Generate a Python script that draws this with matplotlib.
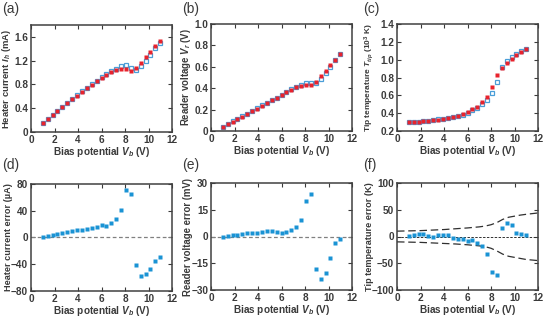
import numpy as np
import matplotlib
matplotlib.use('Agg')
import matplotlib.pyplot as plt
from matplotlib.ticker import MultipleLocator

plt.rcParams['font.family'] = ['Liberation Sans', 'DejaVu Sans']
plt.rcParams['mathtext.fontset'] = 'custom'
plt.rcParams['mathtext.rm'] = 'Liberation Sans:bold'
plt.rcParams['mathtext.it'] = 'Liberation Sans:bold:italic'
plt.rcParams['mathtext.bf'] = 'Liberation Sans:bold'

# bias potential (V)
bias = [1.0, 1.42, 1.83, 2.25, 2.67, 3.08, 3.5, 3.92, 4.33, 4.75, 5.17, 5.58, 6.0,
        6.42, 6.83, 7.25, 7.67, 8.08, 8.5, 8.92, 9.33, 9.75, 10.17, 10.58, 11.0]

# (a) heater current (mA): measured (red) and model (blue)
current_meas = [0.146, 0.215, 0.283, 0.35, 0.415, 0.48, 0.55, 0.61, 0.675, 0.735, 0.79, 0.85, 0.905,
                0.96, 1.005, 1.04, 1.06, 1.055, 1.02, 1.075, 1.16, 1.255, 1.35, 1.44, 1.53]
current_model = [0.147, 0.217, 0.287, 0.355, 0.422, 0.488, 0.559, 0.621, 0.687, 0.748, 0.805, 0.865, 0.924,
                 0.978, 1.027, 1.068, 1.102, 1.127, 1.085, 1.035, 1.102, 1.2, 1.303, 1.405, 1.50]

# (b) reader voltage (V)
reader_meas = [0.038, 0.063, 0.088, 0.113, 0.135, 0.16, 0.186, 0.21, 0.236, 0.26, 0.286, 0.311, 0.336,
               0.362, 0.387, 0.409, 0.42, 0.428, 0.428, 0.462, 0.51, 0.56, 0.613, 0.667, 0.717]
reader_model = [0.038, 0.063, 0.089, 0.114, 0.137, 0.162, 0.188, 0.212, 0.239, 0.263, 0.289, 0.313, 0.338,
                0.365, 0.391, 0.414, 0.429, 0.448, 0.452, 0.444, 0.486, 0.54, 0.601, 0.663, 0.716]

# (c) tip temperature (10^3 K)
temp_meas = [0.298, 0.298, 0.302, 0.309, 0.313, 0.321, 0.328, 0.336, 0.343, 0.355, 0.37, 0.389, 0.415,
             0.442, 0.472, 0.525, 0.585, 0.694, 0.826, 0.906, 0.966, 1.011, 1.053, 1.09, 1.118]
temp_model = [0.299, 0.300, 0.306, 0.313, 0.314, 0.320, 0.330, 0.339, 0.345, 0.352, 0.365, 0.385, 0.406,
              0.435, 0.461, 0.507, 0.552, 0.628, 0.754, 0.922, 0.99, 1.032, 1.059, 1.094, 1.121]

# (d)-(f) errors
current_err = [0.5, 2, 4, 5, 6.5, 7.5, 9, 10.5, 11.5, 13, 14.5, 15, 18.5,
               17.5, 21.5, 27.5, 41.5, 71.5, 65, -40.5, -58, -55, -47.5, -35, -29.5]
reader_err = [-0.4, 0.2, 0.6, 0.9, 1.5, 1.7, 1.9, 2.1, 2.6, 3.0, 3.0, 2.4, 2.2,
              2.8, 3.9, 5.1, 9.4, 20.1, 23.8, -18.4, -23.8, -20.4, -12.0, -3.75, -1.5]
temp_err = [1.3, 2.5, 4.4, 3.8, 1.3, -0.6, 1.9, 3.1, 1.9, -2.5, -5, -4.4, -8.8,
            -6.9, -11.3, -18.2, -33.3, -66, -72.3, 15.7, 24.5, 21.4, 6.3, 3.8, 3.1]

# (f) uncertainty envelope (K)
env_bias = [0, 1, 2, 3, 4, 5, 6, 7, 7.5, 8, 8.5, 9, 9.5, 10, 10.5, 11, 12]
env_upper = [10, 10.5, 11, 12, 13, 14.5, 16, 18, 19.5, 22, 26, 32, 36, 38, 40, 41.5, 44]
env_lower = [-10, -10.5, -11, -12, -13, -14, -15.5, -17.5, -19, -22, -27, -33, -37, -39, -41, -43, -45]

RED = '#e8232d'
BLUE = '#4a9ed8'
BLUE_ERR = '#1a93d4'
TXT = '#3a3a3a'
FS = 7.2

fig = plt.figure(figsize=(5.45, 3.17), dpi=100)
W, H = 545.0, 317.0


def make_axes(left, top, right, bottom):
    return fig.add_axes([left / W, 1 - bottom / H, (right - left) / W, (bottom - top) / H])


def style(ax, ylim, ystep, ylabel, label_fs, label_x=-0.13, yticklabels=None):
    ax.set_xlim(0, 12)
    ax.set_ylim(*ylim)
    ax.xaxis.set_major_locator(MultipleLocator(2))
    ax.yaxis.set_major_locator(MultipleLocator(ystep))
    if yticklabels is not None:
        ax.set_yticks(np.arange(ylim[0], ylim[1] + 1e-9, ystep)[:len(yticklabels)])
        ax.set_yticklabels(yticklabels)
    ax.tick_params(direction='in', top=True, right=True, length=3, width=0.8,
                   labelsize=FS, colors=TXT, pad=2)
    for t in ax.get_xticklabels() + ax.get_yticklabels():
        t.set_fontweight('bold')
    for sp in ax.spines.values():
        sp.set_linewidth(1.1)
        sp.set_color('#404040')
    ax.set_xlabel('Bias potential $V_b$ (V)', fontsize=FS, color=TXT, fontweight='bold')
    ax.xaxis.set_label_coords(0.5, -0.12)
    ax.set_ylabel(ylabel, fontsize=label_fs, color=TXT, fontweight='bold')
    ax.yaxis.set_label_coords(label_x, 0.5)


def pair(ax, model, meas):
    ax.plot(bias, model, ls='none', marker='s', ms=3.2, mfc='none', mec=BLUE, mew=0.9)
    ax.plot(bias, meas, ls='none', marker='s', ms=2.8, mfc=RED, mec='none')


def errs(ax, err):
    ax.plot(bias, err, ls='none', marker='s', ms=2.8, mfc=BLUE_ERR, mec='none')


ax_a = make_axes(31, 25, 172, 132)
pair(ax_a, current_model, current_meas)
style(ax_a, (0, 1.8), 0.4, 'Heater current $I_h$ (mA)', 6.8,
      yticklabels=['0', '0.4', '0.8', '1.2', '1.6'])

ax_b = make_axes(211, 24, 352, 131)
pair(ax_b, reader_model, reader_meas)
style(ax_b, (0, 1.0), 0.2, 'Reader voltage $V_r$ (V)', 6.9,
      yticklabels=['0', '0.2', '0.4', '0.6', '0.8', '1.0'])

ax_c = make_axes(397, 24, 538, 131)
pair(ax_c, temp_model, temp_meas)
style(ax_c, (0.2, 1.4), 0.2, 'Tip temperature $T_{tip}$ (10$^3$ K)', 6.0, label_x=-0.15,
      yticklabels=['0.2', '0.4', '0.6', '0.8', '1.0', '1.2', '1.4'])

ax_d = make_axes(31, 184, 172, 291)
ax_d.axhline(0, color='#808080', lw=0.9, ls=(0, (3, 2)))
errs(ax_d, current_err)
style(ax_d, (-80, 80), 40, 'Heater current error (µA)', 6.6)

ax_e = make_axes(211, 183, 352, 290)
ax_e.axhline(0, color='#808080', lw=0.9, ls=(0, (3, 2)))
errs(ax_e, reader_err)
style(ax_e, (-30, 30), 15, 'Reader voltage error (mV)', 6.9)

ax_f = make_axes(397, 183, 538, 290)
ax_f.axhline(0, color='#303030', lw=0.7, ls=(0, (2.5, 1.5)))
ax_f.plot(env_bias, env_upper, color='#303030', lw=0.9, ls=(0, (6, 3)))
ax_f.plot(env_bias, env_lower, color='#303030', lw=0.9, ls=(0, (6, 3)))
errs(ax_f, temp_err)
style(ax_f, (-100, 100), 50, 'Tip temperature error (K)', 6.6, label_x=-0.16)

for lab, x, y in [('(a)', 2, 2), ('(b)', 182, 2), ('(c)', 363, 2),
                  ('(d)', 2, 158), ('(e)', 182, 158), ('(f)', 363, 158)]:
    fig.text(x / W, 1 - y / H, lab, fontsize=10, color=TXT, ha='left', va='top')

fig.savefig('out.png', dpi=100)
